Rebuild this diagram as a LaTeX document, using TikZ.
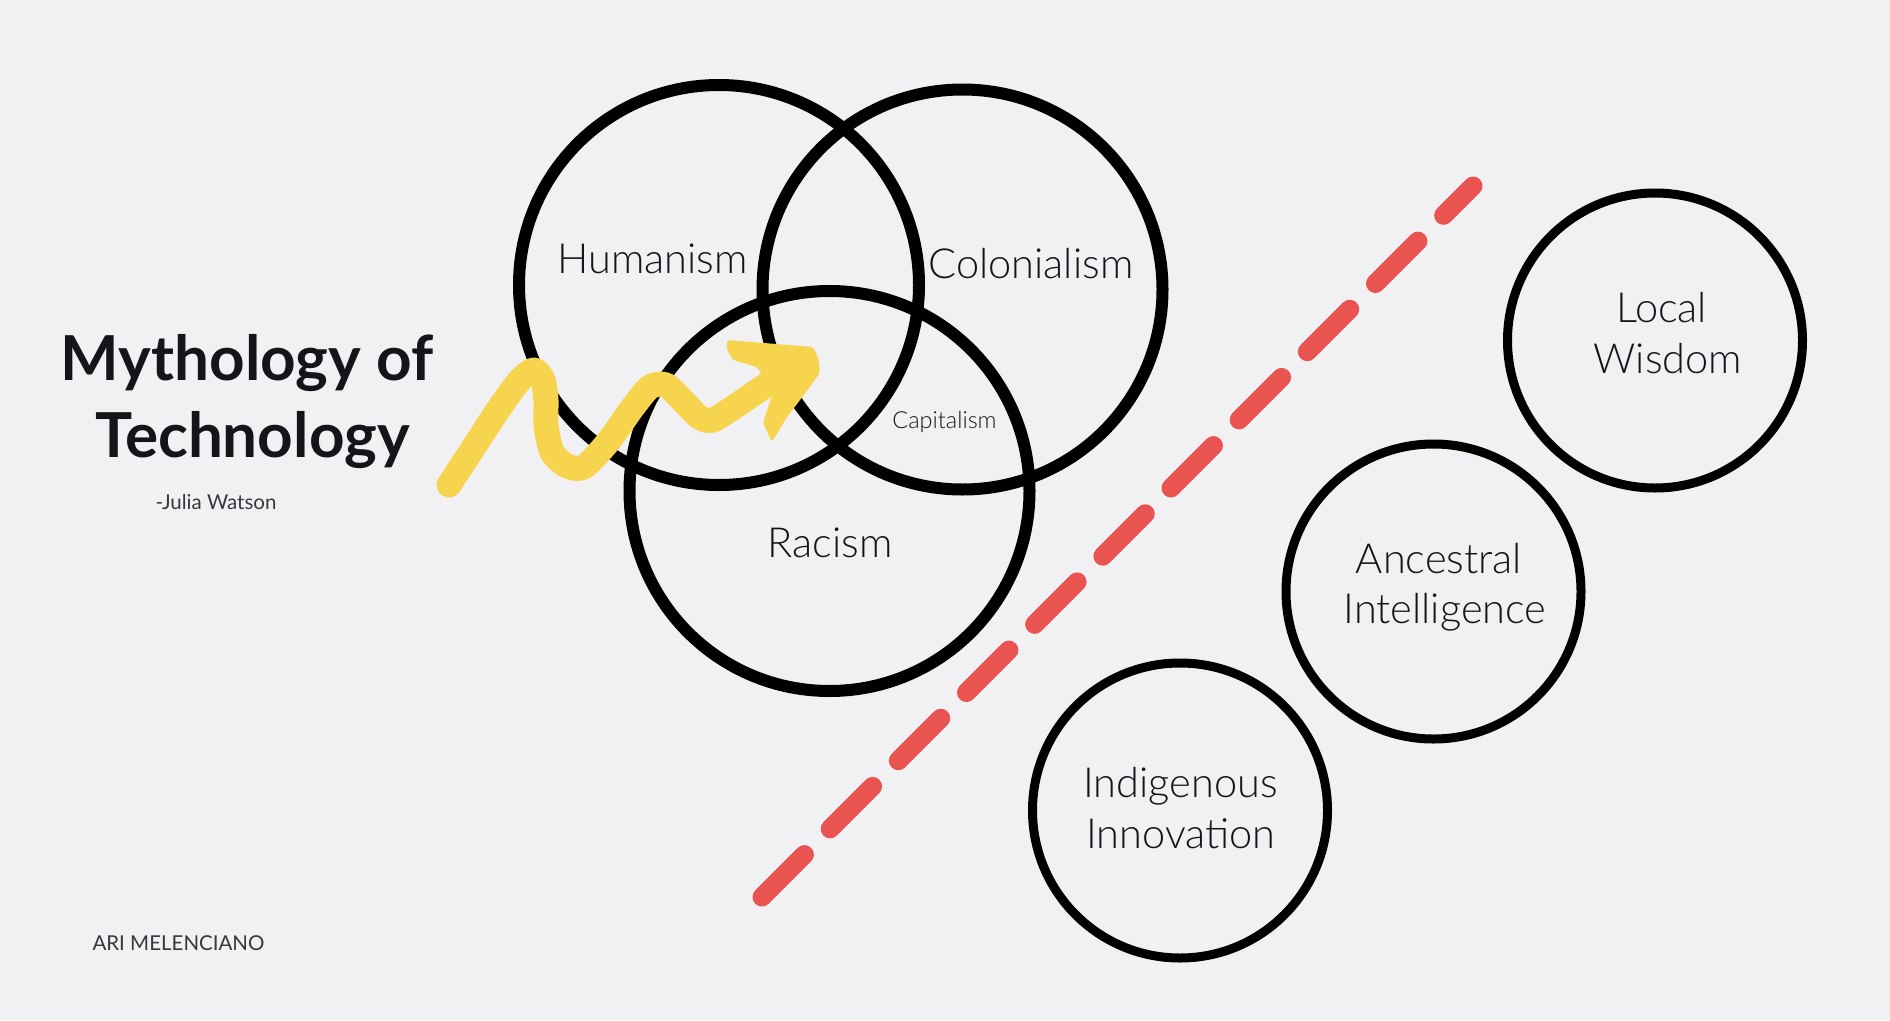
\documentclass[tikz,border=0pt]{standalone}
\usepackage{fontspec}
\setmainfont{Lato}
\newfontfamily\lightfont{Lato Light}
\definecolor{paper}{HTML}{F1F0F3}
\definecolor{ink}{HTML}{161418}
\definecolor{marker}{HTML}{F7D44E}
\definecolor{divider}{HTML}{E95450}

\begin{document}
\begin{tikzpicture}[x=1pt,y=-1pt,
  venn/.style={circle, draw=black, line width=12pt, minimum size=400pt, inner sep=0pt},
  wisdom/.style={circle, draw=black, line width=9pt, minimum size=295pt, inner sep=0pt},
  circletext/.style={anchor=base, inner sep=0pt, text=ink,
    font=\lightfont\fontsize{41.5}{50}\selectfont},
  smalltext/.style={anchor=base, inner sep=0pt, text=ink,
    font=\lightfont\fontsize{23.5}{28}\selectfont},
  titletext/.style={anchor=base, inner sep=0pt, text=ink,
    font=\bfseries\fontsize{62}{75}\selectfont},
  credit/.style={anchor=base, inner sep=0pt, text=ink!85,
    font=\fontsize{20.5}{25}\selectfont},
  markerstroke/.style={draw=marker, line width=25pt, line cap=round, line join=round},
  dividerline/.style={draw=divider, line width=19pt, line cap=round,
    dash pattern=on 60pt off 36.4pt}
]
% canvas
\fill[paper] (0,0) rectangle (1890,1020);
\useasboundingbox (0,0) rectangle (1890,1020);

% title block
\node[titletext] (title1) at (247,380) {Mythology of};
\node[titletext] (title2) at (252.5,457) {Technology};
\node[credit] (quote) at (216,509) {-Julia Watson};
\node[credit] (author) at (178.5,950) {ARI MELENCIANO};

% three overlapping circles
\node[venn] (hum) at (719,285) {};
\node[venn] (col) at (962.5,289.5) {};
\node[venn] (rac) at (829.5,491) {};
\node[circletext] (humtxt) at (652.5,273) {Humanism};
\node[circletext] (coltxt) at (1031,278) {Colonialism};
\node[smalltext] (captxt) at (944.5,428) {Capitalism};
\node[circletext] (ractxt) at (830,557.7) {Racism};

% dividing line
\coordinate (divA) at (762,897);
\coordinate (divB) at (1473,186);
\draw[dividerline] (divA) -- (divB);

% knowledge circles
\node[wisdom] (local) at (1655,340.5) {};
\node[wisdom] (ances) at (1433.5,591.5) {};
\node[wisdom] (indig) at (1180,810.5) {};
\node[circletext] (local1) at (1661.5,322.7) {Local};
\node[circletext] (local2) at (1668,373) {Wisdom};
\node[circletext] (ances1) at (1439,573) {Ancestral};
\node[circletext] (ances2) at (1445,623) {Intelligence};
\node[circletext] (indig1) at (1180.5,797.7) {Indigenous};
\node[circletext] (indig2) at (1181,848) {Innovation};

% hand-drawn squiggle arrow
\draw[markerstroke] plot[smooth, tension=0.45] coordinates {
  (449,485) (470,453) (498,410) (520,380) (534,370) (543,380) (546,400)
  (546,425) (552,452) (567,466) (584,467) (608,442) (633,407) (650,387)
  (666,385) (684,402) (699,417) (713,420) (740,403) (768,384) (800,366)};
\fill[marker, rounded corners=3pt] (727,340) -- (813,347) -- (818,357) -- (820,373)
  -- (800,400) -- (787,417) -- (772,442) -- (763,423) -- (773,392) -- (757,367)
  -- (733,360) -- (727,350) -- cycle;
\end{tikzpicture}
\end{document}
